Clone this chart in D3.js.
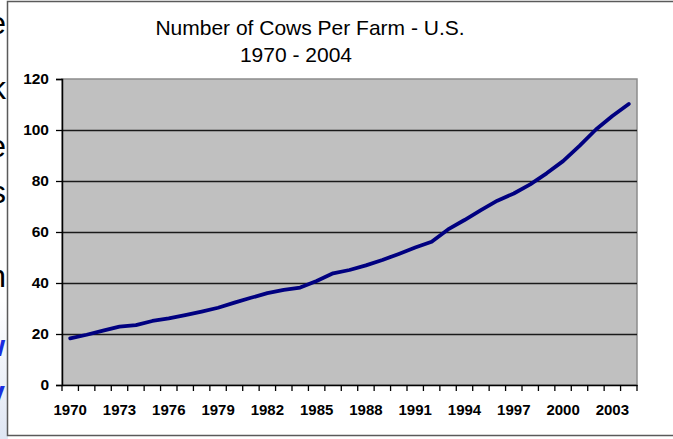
<!DOCTYPE html>
<html>
<head>
<meta charset="utf-8">
<script src="https://cdn.jsdelivr.net/npm/d3@7"></script>
<style>
  body { margin: 0; background: #fff; }
  svg { display: block; font-family: "Liberation Sans", Arial, sans-serif; }
</style>
</head>
<body>
<div id="chart"></div>
<script>
// data
const years = [1970, 1971, 1972, 1973, 1974, 1975, 1976, 1977, 1978, 1979,
  1980, 1981, 1982, 1983, 1984, 1985, 1986, 1987, 1988, 1989,
  1990, 1991, 1992, 1993, 1994, 1995, 1996, 1997, 1998, 1999,
  2000, 2001, 2002, 2003, 2004];
const cowsPerFarm = [18.3, 19.7, 21.3, 22.9, 23.5, 25.1, 26.1, 27.4, 28.8, 30.3,
  32.3, 34.2, 36.0, 37.3, 38.2, 40.8, 43.8, 45.1, 46.9, 49.0,
  51.4, 53.9, 56.2, 61.0, 64.7, 68.6, 72.3, 75.1, 78.7, 83.0,
  87.8, 93.8, 100.2, 105.5, 110.2];
const xTickYears = [1970, 1973, 1976, 1979, 1982, 1985, 1988, 1991, 1994, 1997, 2000, 2003];
const yTicks = [0, 20, 40, 60, 80, 100, 120];
const titleLines = ["Number of Cows Per Farm - U.S.", "1970 - 2004"];
// clipped letters of the slide behind the chart
const sideLetters = ["e", "k", "e", "s", "n"];
const sideBlue = ["w", "v"];

const W = 673, H = 439;
const plot = { left: 62, right: 637, top: 79, bottom: 385 };

const svg = d3.select("#chart").append("svg")
  .attr("width", W)
  .attr("height", H);

// bits of the slide peeking out on the left
const grad = svg.append("defs").append("linearGradient")
  .attr("id", "sideGrad").attr("x1", 0).attr("y1", 0).attr("x2", 0).attr("y2", 1);
grad.append("stop").attr("offset", "0%").attr("stop-color", "#ffffff");
grad.append("stop").attr("offset", "100%").attr("stop-color", "#dfe6f3");
svg.append("rect")
  .attr("x", 0).attr("y", 300).attr("width", 8).attr("height", H - 300)
  .attr("fill", "url(#sideGrad)");

const sideY = [34, 99, 157, 203, 287];
svg.selectAll(".side-letter")
  .data(sideLetters)
  .enter().append("text")
  .attr("class", "side-letter")
  .attr("x", 6)
  .attr("y", (d, i) => sideY[i])
  .attr("text-anchor", "end")
  .style("font-size", "32px")
  .attr("fill", "#000")
  .text(d => d);

const blueY = [356, 402];
svg.selectAll(".side-blue")
  .data(sideBlue)
  .enter().append("text")
  .attr("class", "side-blue")
  .attr("x", 5)
  .attr("y", (d, i) => blueY[i])
  .attr("text-anchor", "end")
  .style("font-size", "30px")
  .style("font-weight", "bold")
  .attr("fill", "#1a2ee0")
  .text(d => d);

// chart frame
svg.append("rect")
  .attr("x", 7.5).attr("y", 1.5)
  .attr("width", W + 10).attr("height", 434)
  .attr("fill", "#fff")
  .attr("stroke", "#5a5a5a")
  .attr("stroke-width", 1.5);

// scales
const xScale = d3.scaleBand()
  .domain(years)
  .range([plot.left, plot.right])
  .padding(0);

const yScale = d3.scaleLinear()
  .domain([0, 120])
  .range([plot.bottom, plot.top]);

// plot area
svg.append("rect")
  .attr("x", plot.left).attr("y", plot.top)
  .attr("width", plot.right - plot.left)
  .attr("height", plot.bottom - plot.top)
  .attr("fill", "#c0c0c0")
  .attr("stroke", "#8c8c8c")
  .attr("stroke-width", 1.5);

// gridlines
svg.selectAll(".grid")
  .data(yTicks.filter(v => v > 0 && v < 120))
  .enter().append("line")
  .attr("class", "grid")
  .attr("x1", plot.left).attr("x2", plot.right)
  .attr("y1", d => Math.round(yScale(d)) + 0.5)
  .attr("y2", d => Math.round(yScale(d)) + 0.5)
  .attr("stroke", "#1a1a1a")
  .attr("stroke-width", 1.3);

// y axis
const yAxis = d3.axisLeft(yScale)
  .tickValues(yTicks)
  .tickSize(6)
  .tickPadding(7);

const gy = svg.append("g")
  .attr("transform", `translate(${plot.left},0)`)
  .call(yAxis);
gy.select(".domain").attr("stroke", "#000").attr("stroke-width", 1.5);
gy.selectAll(".tick line").attr("stroke", "#000").attr("stroke-width", 1.3);
gy.selectAll(".tick text")
  .style("font-size", "15.5px")
  .style("font-weight", "bold")
  .attr("fill", "#000");

// x axis: labels every third year, tick marks between categories
const xAxis = d3.axisBottom(xScale)
  .tickValues(xTickYears)
  .tickSize(0)
  .tickPadding(19);

const gx = svg.append("g")
  .attr("transform", `translate(0,${plot.bottom})`)
  .call(xAxis);
gx.select(".domain").attr("stroke", "#000").attr("stroke-width", 1.5);
gx.selectAll(".tick text")
  .style("font-size", "15px")
  .style("font-weight", "bold")
  .attr("fill", "#000");

const boundaries = years.map(y => xScale(y)).concat([xScale.range()[1]]);
gx.selectAll(".xtick")
  .data(boundaries)
  .enter().append("line")
  .attr("class", "xtick")
  .attr("x1", d => d).attr("x2", d => d)
  .attr("y1", 0).attr("y2", 6)
  .attr("stroke", "#000")
  .attr("stroke-width", 1.3);

// the series line
const line = d3.line()
  .x((d, i) => xScale(years[i]) + xScale.bandwidth() / 2)
  .y(d => yScale(d));

svg.append("path")
  .datum(cowsPerFarm)
  .attr("d", line)
  .attr("fill", "none")
  .attr("stroke", "#000080")
  .attr("stroke-width", 3.8)
  .attr("stroke-linejoin", "round")
  .attr("stroke-linecap", "round");

// title
svg.append("text")
  .attr("x", 310)
  .attr("y", 35)
  .attr("text-anchor", "middle")
  .style("font-size", "21px")
  .attr("fill", "#000")
  .text(titleLines[0]);

svg.append("text")
  .attr("x", 296)
  .attr("y", 62)
  .attr("text-anchor", "middle")
  .style("font-size", "21px")
  .attr("fill", "#000")
  .text(titleLines[1]);
</script>
</body>
</html>
